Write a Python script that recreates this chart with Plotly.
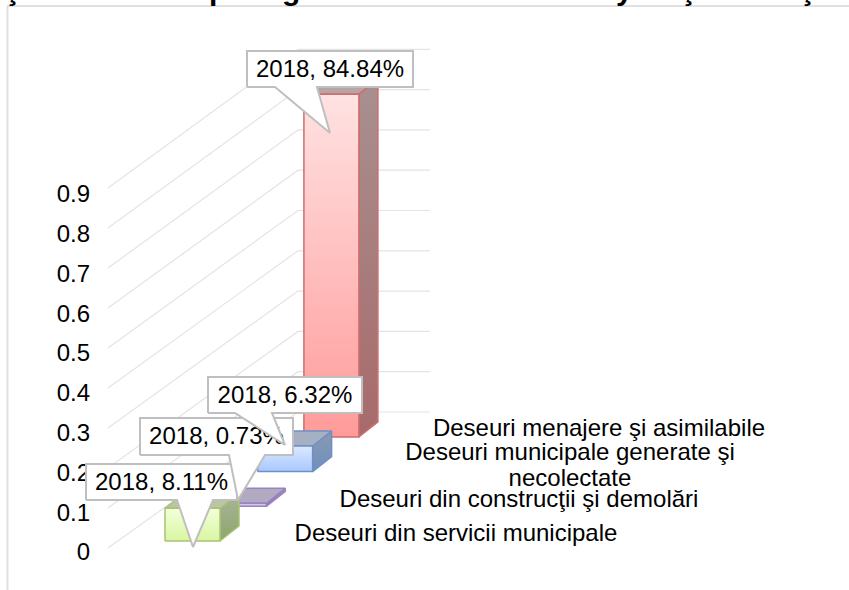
import plotly.graph_objects as go

# ---- data ----
categories = ["Deseuri din servicii municipale", "Deseuri din construcţii şi demolări",
              "Deseuri municipale generate şi<br>necolectate", "Deseuri menajere şi asimilabile"]
year = "2018"
values = [0.0811, 0.0073, 0.0632, 0.8484]
ticks = [0, 0.1, 0.2, 0.3, 0.4, 0.5, 0.6, 0.7, 0.8, 0.9]
title_parts = ["ş", "p", "g", "y", "ş", "ş"]

# ---- layout constants (pixels of the oblique projection) ----
W, H = 849, 590
Y0, YS = 552, 398           # pixel of value 0 and pixels per unit on the value axis
FONT = "Liberation Sans, Arial, sans-serif"
LABEL_SIZE = 24
LINE_GAP = 26
BAR_K, BAR_W, DEP_X, DEP_Y = 404, 55, 19, 15
BAR_X0, BAR_Y0, STEP_X, STEP_Y = 165, 541, 46.3, -34.7

front = [("#f4ffdc", "#d8f6a0"), ("#dccff0", "#c8b6e4"), ("#dbe9ff", "#a8c8ff"), ("#ffe2e2", "#ff9a9a")]
side = [("#a9b598", "#8ea56c"), ("#a08cbc", "#8c74ac"), ("#8b9ab2", "#6d8fbe"), ("#a89090", "#a86a6a")]
top = ["#b9c6a4", "#b2aac0", "#a6b0c4", "#b8a4a4"]
edge = ["#a8c470", "#9a84c0", "#6f90c4", "#cc6e6e"]

label_pos = [(456, 535), (519, 501), (570, 467), (599, 430)]
boxes = [(86, 464, 237, 500), (140, 418, 293, 455), (208, 377, 362, 413), (247, 51, 413, 87)]
tails = [((177, 193, 213), 547), ((229, 238, 265), 500), ((235, 285, 272), 445), ((275, 330, 317), 133)]
title_x = [12, 218, 291, 624, 688, 807]


def V(py):
    return (Y0 - py) / YS


fig = go.Figure()


def poly(xs, ys, fill=None, grad=None, line=None, lw=1.5):
    kw = dict(x=list(xs) + [xs[0]], y=[V(p) for p in ys] + [V(ys[0])], mode="lines", fill="toself",
              line=dict(color=line, width=lw), hoverinfo="skip", showlegend=False)
    if grad:
        kw["fillcolor"] = grad[0]
        kw["fillgradient"] = dict(type="vertical", colorscale=[[0, grad[1]], [1, grad[0]]])
    else:
        kw["fillcolor"] = fill
    fig.add_trace(go.Scatter(**kw))


# walls: gridlines
for t in ticks:
    fig.add_trace(go.Scatter(x=[108, 298, 430], y=[V(548 - 400 * t), V(412 - 403 * t), V(412 - 403 * t)],
                             mode="lines", line=dict(color="#e4e4e4", width=1.2),
                             hoverinfo="skip", showlegend=False))

# bars, drawn back to front
for i in range(len(values) - 1, -1, -1):
    x0 = BAR_X0 + STEP_X * i
    y0 = BAR_Y0 + STEP_Y * i
    h = values[i] * BAR_K
    x1 = x0 + BAR_W
    poly([x1, x1 + DEP_X, x1 + DEP_X, x1], [y0, y0 - DEP_Y, y0 - DEP_Y - h, y0 - h], grad=side[i], line=edge[i])
    poly([x0, x1, x1 + DEP_X, x0 + DEP_X], [y0 - h, y0 - h, y0 - h - DEP_Y, y0 - h - DEP_Y], fill=top[i], line=edge[i])
    poly([x0, x1, x1, x0], [y0, y0, y0 - h, y0 - h], grad=front[i], line=edge[i])

# category names on the depth axis (wrapped names use a tighter line gap)
for name, (x, y) in zip(categories, label_pos):
    lines = name.split("<br>")
    for k, part in enumerate(lines):
        py = y + (k - (len(lines) - 1) / 2) * LINE_GAP
        fig.add_trace(go.Scatter(x=[x], y=[V(py)], mode="text", text=[part], textposition="middle center",
                                 textfont=dict(family=FONT, size=24, color="#000000"),
                                 hoverinfo="skip", showlegend=False, cliponaxis=False))

# callouts
for v, (bx0, by0, bx1, by1), ((ta, tb, tc), ty) in zip(values, boxes, tails):
    poly([bx0, ta, tb, tc, bx1, bx1, bx0], [by1, by1, ty, by1, by1, by0, by0], fill="#ffffff", line="#bfbfbf", lw=2)
    fig.add_trace(go.Scatter(x=[(bx0 + bx1) / 2], y=[V((by0 + by1) / 2 + 1.5)], mode="text",
                             text=[f"{year}, {v * 100:.2f}%"], textposition="middle center",
                             textfont=dict(family=FONT, size=LABEL_SIZE, color="#000000"),
                             hoverinfo="skip", showlegend=False, cliponaxis=False))

fig.update_layout(
    width=W, height=H, autosize=False, margin=dict(l=0, r=0, t=0, b=0),
    paper_bgcolor="#ffffff", plot_bgcolor="#ffffff", showlegend=False,
    xaxis=dict(range=[0, W], visible=False, fixedrange=True),
    yaxis=dict(range=[V(H), V(0)], anchor="free", position=90 / W, side="left", layer="below traces",
               tickmode="array", tickvals=ticks, ticktext=[f"{t:g}" for t in ticks],
               showgrid=False, zeroline=False, showline=False, ticks="", automargin=False,
               tickfont=dict(family=FONT, size=24, color="#000000"), fixedrange=True),
    shapes=[
        dict(type="line", xref="x", yref="paper", x0=7, x1=W, y0=1 - 6 / H, y1=1 - 6 / H,
             line=dict(color="#e0e0e0", width=2), layer="below"),
        dict(type="line", xref="x", yref="paper", x0=7.5, x1=7.5, y0=0, y1=1 - 6 / H,
             line=dict(color="#e0e0e0", width=2), layer="below"),
    ],
    annotations=[dict(text=f"<b>{s}</b>", x=x, y=1, xref="x", yref="paper", yanchor="middle", xanchor="center",
                      yshift=11, showarrow=False, font=dict(family=FONT, size=30, color="#000000"))
                 for s, x in zip(title_parts, title_x)],
)
fig.write_html("out.html", config={"displayModeBar": False},
               post_script="document.body.style.margin='0';document.documentElement.style.overflow='hidden';")
